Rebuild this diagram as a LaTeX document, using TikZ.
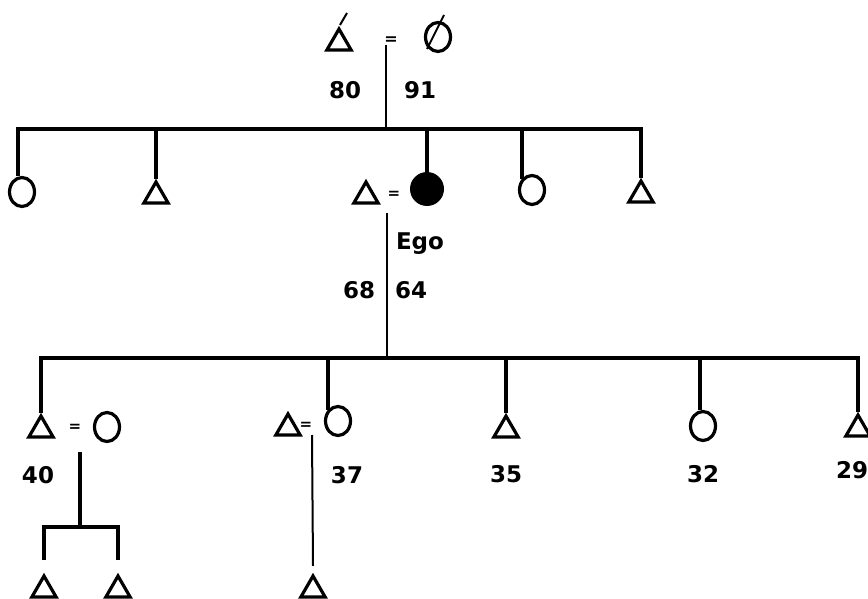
\documentclass[tikz,border=0pt]{standalone}
\usepackage{fontspec}
\setmainfont{DejaVu Sans}
\usetikzlibrary{shapes.geometric}

\begin{document}
\begin{tikzpicture}[x=1pt,y=-1pt,
        male/.style={draw, regular polygon, regular polygon sides=3, minimum size=28pt, inner sep=0pt, line width=3.2pt},
        female/.style={draw, ellipse, minimum width=25pt, minimum height=29pt, inner sep=0pt, line width=3.2pt},
        egonode/.style={fill, circle, minimum size=34pt, inner sep=0pt},
        kin/.style={line width=3.2pt},
        wedline/.style={line width=2pt},
        wed/.style={font=\bfseries\fontsize{15}{15}\selectfont, inner sep=0pt},
        age/.style={font=\bfseries\fontsize{23}{23}\selectfont, inner sep=0pt}]
        \useasboundingbox (0,0) rectangle (868,599);

        \node[male] (gf) at (339,43) {};
        \node[female] (gm) at (438,37) {};
        \node[wed, font=\bfseries\fontsize{16}{16}\selectfont] (eq1) at (391,41) {=};
        \draw[line width=2pt] (340,25) -- (347,13);
        \draw[line width=2pt] (427,49) -- (444,15);
        \node[age] (a80) at (345,90) {80};
        \node[age] (a91) at (420,90) {91};
        \coordinate (m1) at (386,45);
        \coordinate (j1) at (386,129);
        \draw[wedline] (m1) -- (j1);

        \node[female] (c1) at (22,192) {};
        \node[male] (c2) at (156,196) {};
        \node[male] (h1) at (366,196) {};
        \node[wed] (eq2) at (394,195) {=};
        \node[egonode] (ego) at (427,189) {};
        \node[female] (c4) at (532,190) {};
        \node[male] (c5) at (641,195) {};
        \draw[kin] ([xshift=-4pt]c1.north) |- (j1) -| (c5.north);
        \draw[kin] (c2.north) -- (c2.north |- j1);
        \draw[kin] (ego.north) -- (ego.north |- j1);
        \draw[kin] (c4.north west) -- (c4.north west |- j1);

        \node[age] (egolabel) at (420,244) {Ego};
        \node[age] (a68) at (359,290) {68};
        \node[age] (a64) at (411,290) {64};
        \coordinate (m2) at (387,213);
        \coordinate (j2) at (387,358);
        \draw[wedline] (m2) -- (j2);

        \node[male] (d1) at (41,430) {};
        \node[wed] (eq3) at (75,428) {=};
        \node[female] (w1) at (107,427) {};
        \node[male] (h2) at (288,428) {};
        \node[wed] (eq4) at (306,426) {=};
        \node[female] (d2) at (338,421) {};
        \node[male] (d3) at (506,430) {};
        \node[female] (d4) at (703,426) {};
        \node[male] (d5) at (858,429) {};
        \draw[kin] (d1.north) |- (j2) -| (d5.north);
        \draw[kin] (d2.north west) -- (d2.north west |- j2);
        \draw[kin] (d3.north) -- (d3.north |- j2);
        \draw[kin] ([xshift=-3pt]d4.north) -- ([xshift=-3pt]d4.north |- j2);

        \node[age] (a40) at (38,475) {40};
        \node[age] (a37) at (347,475) {37};
        \node[age] (a35) at (506,474) {35};
        \node[age] (a32) at (703,474) {32};
        \node[age] (a29) at (852,470) {29};

        \coordinate (m3) at (80,452);
        \coordinate (j3) at (80,527);
        \node[male] (g1) at (44,590) {};
        \node[male] (g2) at (118,590) {};
        \draw[kin] (m3) -- (j3);
        \draw[kin] ([yshift=13pt]g1.north) |- (j3) -| ([yshift=13pt]g2.north);

        \coordinate (m4) at (312,435);
        \node[male] (g3) at (313,590) {};
        \draw[wedline] (m4) -- ([yshift=7pt]g3.north);
    \end{tikzpicture}
\end{document}
